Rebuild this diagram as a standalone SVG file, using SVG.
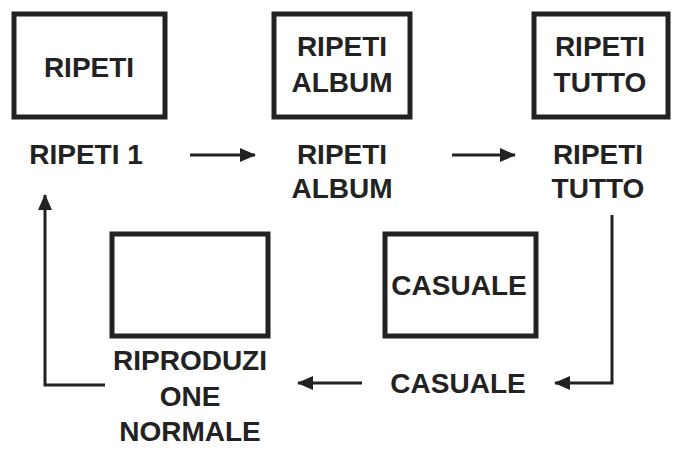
<svg xmlns="http://www.w3.org/2000/svg" width="696" height="451" viewBox="0 0 696 451">
<style>
.b{fill:#fff;stroke:#222;stroke-width:5}
.t{font-family:"Liberation Sans",Arial,sans-serif;font-weight:bold;font-size:28px;fill:#222;text-anchor:middle}
.c{fill:none;stroke:#222;stroke-width:3}
</style>
<defs><marker id="a" markerWidth="16" markerHeight="14" refX="15" refY="7" orient="auto" markerUnits="userSpaceOnUse" viewBox="0 0 16 14"><path d="M0,0L16,7L0,14z" fill="#222"/></marker></defs>
<rect width="696" height="451" fill="#fff"/>
<g id="n1"><rect class="b" x="14" y="14" width="151" height="103"/><text class="t" x="89" y="77">RIPETI</text><text class="t" x="86" y="164">RIPETI 1</text></g>
<g id="n2"><rect class="b" x="274" y="14" width="136" height="103"/><text class="t" x="342" y="56">RIPETI</text><text class="t" x="342" y="92">ALBUM</text><text class="t" x="342" y="164">RIPETI</text><text class="t" x="342" y="198">ALBUM</text></g>
<g id="n3"><rect class="b" x="534" y="14" width="134" height="103"/><text class="t" x="600" y="56">RIPETI</text><text class="t" x="600" y="92">TUTTO</text><text class="t" x="598" y="164">RIPETI</text><text class="t" x="598" y="198">TUTTO</text></g>
<g id="n4"><rect class="b" x="385" y="234" width="151" height="102"/><text class="t" x="459" y="295">CASUALE</text><text class="t" x="458" y="393">CASUALE</text></g>
<g id="n5"><rect class="b" x="112" y="234" width="156" height="102"/><text class="t" x="190" y="370">RIPRODUZI</text><text class="t" x="190" y="406">ONE</text><text class="t" x="190" y="441">NORMALE</text></g>
<g id="connectors">
<path class="c" d="M190,155H255" marker-end="url(#a)"/>
<path class="c" d="M452,155H515" marker-end="url(#a)"/>
<path class="c" d="M612,215V383H555" marker-end="url(#a)"/>
<path class="c" d="M362,383H298" marker-end="url(#a)"/>
<path class="c" d="M105,385H45V195" marker-end="url(#a)"/>
</g>
</svg>
